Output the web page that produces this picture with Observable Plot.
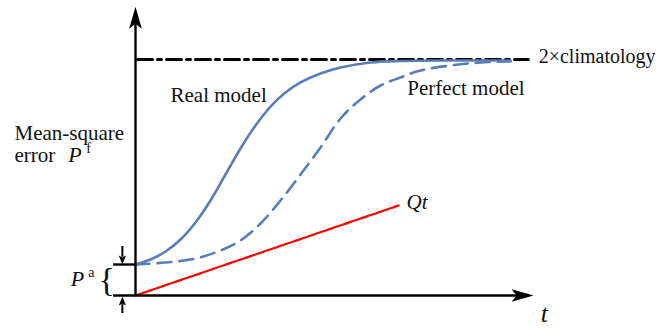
<!DOCTYPE html>
<html>
<head>
<meta charset="utf-8">
<script src="https://cdn.jsdelivr.net/npm/d3@7"></script>
<script src="https://cdn.jsdelivr.net/npm/@observablehq/plot@0.6"></script>
<style>
  html, body { margin: 0; padding: 0; background: #fff; }
</style>
</head>
<body>
<div id="chart"></div>
<script>
// ---- data (schematic values) ----
const realT = [0, 0.377, 0.754, 1.131, 1.508, 1.884, 2.261, 2.638, 3.015, 3.392, 3.769, 4.146, 4.648, 5.151, 5.905, 6.658, 7.915, 9.422];
const realY = [1.095, 1.272, 1.555, 1.979, 2.580, 3.357, 4.276, 5.194, 6.007, 6.678, 7.173, 7.527, 7.845, 8.057, 8.233, 8.286, 8.304, 8.304];
const perfectT = [0, 0.754, 1.508, 2.136, 2.638, 3.141, 3.643, 4.146, 4.648, 5.151, 5.653, 6.156, 6.658, 7.161, 7.915, 8.668, 9.422];
const perfectY = [1.095, 1.166, 1.307, 1.590, 1.943, 2.544, 3.357, 4.276, 5.230, 6.254, 6.926, 7.420, 7.703, 7.951, 8.127, 8.233, 8.269];
const qtT = [0, 6.61];
const qtY = [0, 3.18];
const climatologyLevel = 8.34;
const climatologyT = [0.05, 9.87];
const paLevel = 1.095;

const labelTexts = ["Real model", "Perfect model", "2×climatology", "Mean-square", "error", "Qt", "t"];
const labelT = [0.88, 6.83, 10.13, -3.04, -3.04, 6.81, 10.18];
const labelY = [6.82, 7.07, 8.20, 5.51, 4.70, 3.07, -0.95];
const labelItalic = [false, false, false, false, false, true, true];
const labelSize = [21, 21, 20, 21, 21, 21, 26];

// ---- build tables ----
const real = realT.map((t, i) => ({t, y: realY[i]}));
const perfect = perfectT.map((t, i) => ({t, y: perfectY[i]}));
const qt = qtT.map((t, i) => ({t, y: qtY[i]}));
const clim = climatologyT.map(t => ({t, y: climatologyLevel}));
const labels = labelTexts.map((text, i) => ({text, t: labelT[i], y: labelY[i], italic: labelItalic[i], size: labelSize[i]}));

// stealth arrowhead symbol, tip pointing up, origin at the back corners
function stealth(len, half, notch) {
  return {
    draw(ctx) {
      ctx.moveTo(0, -len);
      ctx.lineTo(half, 0);
      ctx.lineTo(0, -notch);
      ctx.lineTo(-half, 0);
      ctx.closePath();
    }
  };
}
const bigHead = stealth(22, 6.3, 5);
const smallHead = stealth(9, 3.6, 2);

const blue = "#5b7db7";
const serif = "Liberation Serif";

const textMarks = labels.map(d => Plot.text([d], {
  x: "t", y: "y", text: "text", textAnchor: "start", lineAnchor: "bottom",
  fontSize: d.size, fontStyle: d.italic ? "italic" : "normal", fontFamily: serif, fill: "#111"
}));

const chart = Plot.plot({
  width: 663,
  height: 328,
  marginLeft: 135,
  marginRight: 130,
  marginTop: 12,
  marginBottom: 33,
  x: {domain: [0, 10], axis: null},
  y: {domain: [0, 10], axis: null},
  style: {background: "white"},
  marks: [
    // climatology dash-dot
    Plot.line(clim, {x: "t", y: "y", stroke: "black", strokeWidth: 3, strokeDasharray: "15,5,4,5"}),
    // Qt line
    Plot.line(qt, {x: "t", y: "y", stroke: "#ff0000", strokeWidth: 2.2, strokeDasharray: "7,1,1.5,1"}),
    // perfect model (dashed)
    Plot.line(perfect, {x: "t", y: "y", stroke: blue, strokeWidth: 2.6, strokeDasharray: "14,8", curve: "catmull-rom"}),
    // real model (solid)
    Plot.line(real, {x: "t", y: "y", stroke: blue, strokeWidth: 2.6, curve: "catmull-rom"}),
    // axes
    Plot.ruleX([0], {y1: 0, y2: 9.6, stroke: "black", strokeWidth: 2.4}),
    Plot.ruleY([0], {x1: -0.55, x2: 9.6, stroke: "black", strokeWidth: 2.4}),
    Plot.dot([{t: 0, y: 9.43}], {x: "t", y: "y", symbol: bigHead, fill: "black", stroke: "none", r: 5}),
    Plot.dot([{t: 9.45, y: 0}], {x: "t", y: "y", symbol: bigHead, fill: "black", stroke: "none", r: 5, rotate: 90}),
    // Pa tick
    Plot.ruleY([paLevel], {x1: -0.55, x2: 0, stroke: "black", strokeWidth: 2.4}),
    // small arrows
    Plot.ruleX([-0.33], {y1: 1.73, y2: 1.35, stroke: "black", strokeWidth: 2}),
    Plot.dot([{t: -0.33, y: 1.41}], {x: "t", y: "y", symbol: smallHead, fill: "black", stroke: "none", r: 3, rotate: 180}),
    Plot.ruleX([-0.33], {y1: -0.64, y2: -0.3, stroke: "black", strokeWidth: 2}),
    Plot.dot([{t: -0.33, y: -0.35}], {x: "t", y: "y", symbol: smallHead, fill: "black", stroke: "none", r: 3}),
    // labels
    ...textMarks,
    Plot.text([{t: -1.69, y: 4.70}], {x: "t", y: "y", text: () => "P", textAnchor: "start", lineAnchor: "bottom", fontSize: 22, fontStyle: "italic", fontFamily: serif, fill: "#111"}),
    Plot.text([{t: -1.24, y: 5.05}], {x: "t", y: "y", text: () => "f", textAnchor: "start", lineAnchor: "bottom", fontSize: 14, fontFamily: serif, fill: "#111"}),
    Plot.text([{t: -1.63, y: 0.35}], {x: "t", y: "y", text: () => "P", textAnchor: "start", lineAnchor: "bottom", fontSize: 22, fontStyle: "italic", fontFamily: serif, fill: "#111"}),
    Plot.text([{t: -1.19, y: 0.64}], {x: "t", y: "y", text: () => "a", textAnchor: "start", lineAnchor: "bottom", fontSize: 14, fontFamily: serif, fill: "#111"}),
    Plot.text([{t: -0.93, y: 0.53}], {x: "t", y: "y", text: () => "{", textAnchor: "start", lineAnchor: "middle", fontSize: 34, fontFamily: serif, fill: "#111"})
  ]
});
document.getElementById("chart").appendChild(chart);
</script>
</body>
</html>
